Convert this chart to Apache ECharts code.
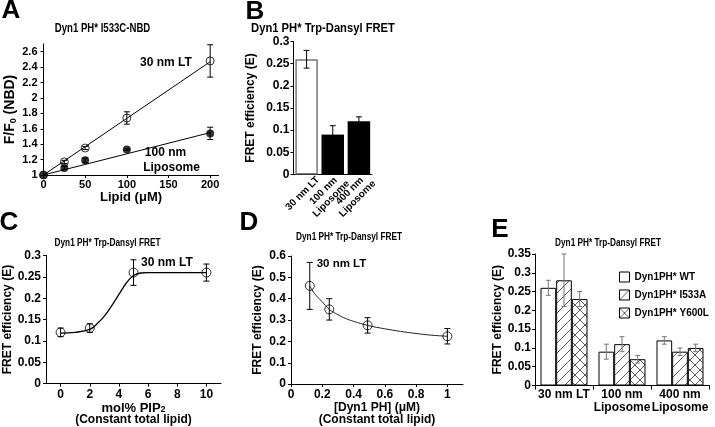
<!DOCTYPE html>
<html><head><meta charset="utf-8">
<script src="https://cdn.jsdelivr.net/npm/echarts@6/dist/echarts.min.js"></script>
<style>html,body{margin:0;padding:0;background:#fff}#c{width:715px;height:427px}</style>
</head><body><div id="c"></div>
<script>
// ---------- Panel A ----------
const aLipid = [0, 25, 50, 100, 200];
const a30Mean = [1.0, 1.17, 1.35, 1.74, 2.48];
const a30Err = [0, 0.02, 0.02, 0.08, 0.21];
const a100Mean = [1.0, 1.09, 1.19, 1.33, 1.54];
const a100Err = [0, 0.02, 0.03, 0.01, 0.08];
const aFitX = [0, 200];
const a30Fit = [1.0, 2.47];
const a100Fit = [1.0, 1.55];
const aYTicks = [1, 1.2, 1.4, 1.6, 1.8, 2, 2.2, 2.4, 2.6];
const aXTicks = [0, 50, 100, 150, 200];
// ---------- Panel B ----------
const bCats = ['30 nm LT', '100 nm\nLiposome', '400 nm\nLiposome'];
const bMean = [0.26, 0.09, 0.12];
const bErr = [0.02, 0.02, 0.01];
// ---------- Panel C ----------
const cPip = [0, 2, 5, 10];
const cMean = [0.12, 0.13, 0.26, 0.26];
const cErr = [0.01, 0.01, 0.03, 0.02];
const cFitX = [0, 1, 2, 2.5, 3, 3.5, 4, 4.5, 5, 5.5, 6, 8, 10];
const cFitY = [0.118, 0.12, 0.127, 0.14, 0.158, 0.182, 0.209, 0.235, 0.253, 0.259, 0.26, 0.26, 0.26];
const cXTicks = [0, 2, 4, 6, 8, 10];
// ---------- Panel D ----------
const dConc = [0.12, 0.245, 0.49, 1.0];
const dMean = [0.46, 0.35, 0.275, 0.224];
const dErr = [0.11, 0.05, 0.036, 0.036];
const dFitX = [0.12, 0.15, 0.2, 0.245, 0.3, 0.35, 0.4, 0.49, 0.6, 0.7, 0.8, 0.9, 1.0];
const dFitY = [0.46, 0.425, 0.385, 0.35, 0.325, 0.307, 0.294, 0.275, 0.259, 0.247, 0.237, 0.229, 0.224];
const dXTicks = [0, 0.2, 0.4, 0.6, 0.8, 1];
// ---------- Panel E ----------
const eCats = ['30 nm LT', '100 nm\nLiposome', '400 nm\nLiposome'];
const eNames = ['Dyn1PH* WT', 'Dyn1PH* I533A', 'Dyn1PH* Y600L'];
const eWT = [0.26, 0.09, 0.12];
const eWTErr = [0.02, 0.02, 0.01];
const eI533A = [0.28, 0.11, 0.09];
const eI533AErr = [0.07, 0.02, 0.01];
const eY600L = [0.23, 0.07, 0.10];
const eY600LErr = [0.02, 0.01, 0.01];

const FF = "'Liberation Sans', Arial, Helvetica, sans-serif";

function hatch(cross) {
  const s = 10, cv = document.createElement('canvas');
  cv.width = s; cv.height = s;
  const g = cv.getContext('2d');
  g.fillStyle = '#fff'; g.fillRect(0, 0, s, s);
  g.strokeStyle = '#333'; g.lineWidth = 0.8;
  g.beginPath();
  g.moveTo(0, s); g.lineTo(s, 0);
  g.moveTo(-2, 2); g.lineTo(2, -2);
  g.moveTo(s - 2, s + 2); g.lineTo(s + 2, s - 2);
  if (cross) {
    g.moveTo(0, 0); g.lineTo(s, s);
    g.moveTo(-2, s - 2); g.lineTo(2, s + 2);
    g.moveTo(s - 2, -2); g.lineTo(s + 2, 2);
  }
  g.stroke();
  return cv;
}
const patDiag = { image: hatch(false), repeat: 'repeat' };
const patCross = { image: hatch(true), repeat: 'repeat' };
const eFills = ['#fff', patDiag, patCross];

function zip(xs, ys) { return xs.map((x, i) => [x, ys[i]]); }
function zip3(xs, ys, es) { return xs.map((x, i) => [x, ys[i], es[i]]); }

function errRender(idx, n, gap, color, cap) {
  return function (params, api) {
    const x = api.value(0), y = api.value(1), e = api.value(2);
    if (!e) return null;
    const hi = api.coord([x, y + e]), lo = api.coord([x, y - e]);
    let dx = 0;
    if (n) {
      const cw = api.size([1, 0])[0];
      const bw = cw * (1 - gap) / n;
      dx = (idx - (n - 1) / 2) * bw;
    }
    const cx = hi[0] + dx;
    const st = { stroke: color, lineWidth: 1 };
    return { type: 'group', children: [
      { type: 'line', shape: { x1: cx, y1: hi[1], x2: cx, y2: lo[1] }, style: st },
      { type: 'line', shape: { x1: cx - cap, y1: hi[1], x2: cx + cap, y2: hi[1] }, style: st },
      { type: 'line', shape: { x1: cx - cap, y1: lo[1], x2: cx + cap, y2: lo[1] }, style: st }
    ]};
  };
}

const lbl = { color: '#000', fontWeight: 'bold', fontSize: 11, fontFamily: FF };
function valAxis(gi, min, max, interval, extra) {
  return Object.assign({
    type: 'value', gridIndex: gi, min: min, max: max, interval: interval,
    axisLine: { show: true, onZero: false, lineStyle: { color: '#000', width: 1 } },
    axisTick: { show: true, length: 3, lineStyle: { color: '#000' } },
    axisLabel: Object.assign({ margin: 5 }, lbl),
    splitLine: { show: false },
    nameTextStyle: { color: '#000', fontWeight: 'bold', fontSize: 12, fontFamily: FF }
  }, extra || {});
}

const chart = echarts.init(document.getElementById('c'), null, { renderer: 'canvas' });

const subRich = {
  sub: { fontSize: 9, fontWeight: 'bold', fontFamily: FF, color: '#000', verticalAlign: 'bottom', lineHeight: 9 }
};

const option = {
  animation: false,
  backgroundColor: '#fff',
  grid: [
    { left: 43.5, top: 44, width: 175, height: 131 },
    { left: 293.5, top: 41.5, width: 78.5, height: 133 },
    { left: 46, top: 255.5, width: 175, height: 130 },
    { left: 291, top: 256, width: 172, height: 129 },
    { left: 535, top: 254, width: 174, height: 131.5 }
  ],
  xAxis: [
    valAxis(0, 0, 210, 50, {
      axisLabel: Object.assign({ margin: 4, customValues: aXTicks }, lbl),
      axisTick: { show: true, length: 3, customValues: aXTicks, lineStyle: { color: '#000' } },
      name: 'Lipid (\u03bcM)', nameLocation: 'middle', nameGap: 15,
      nameTextStyle: { color: '#000', fontWeight: 'bold', fontSize: 13, fontFamily: FF }
    }),
    {
      type: 'category', gridIndex: 1, data: bCats,
      axisLine: { show: true, onZero: false, lineStyle: { color: '#000' } },
      axisTick: { show: false },
      axisLabel: {
        interval: 0, rotate: 45, margin: 15, padding: [0, -16, 0, 0],
        formatter: v => v.split('\n').map(s => '{a|' + s + '}').join('\n'),
        rich: { a: { align: 'center', fontSize: 10, fontWeight: 'bold', fontFamily: FF, color: '#000', lineHeight: 11 } }
      }
    },
    valAxis(2, -1, 11, 1, {
      axisLabel: Object.assign({ margin: 5, customValues: cXTicks }, lbl, { fontSize: 12 }),
      axisTick: { show: true, length: 3, customValues: cXTicks, lineStyle: { color: '#000' } },
      name: 'mol% PIP{sub|2}\n{b|(Constant total lipid)}', nameLocation: 'middle', nameGap: 8,
      nameTextStyle: {
        color: '#000', fontWeight: 'bold', fontSize: 13, fontFamily: FF, lineHeight: 12,
        rich: Object.assign({ b: { fontSize: 12, fontWeight: 'bold', fontFamily: FF, color: '#000', lineHeight: 12 } }, subRich)
      }
    }),
    valAxis(3, 0, 1.1, 0.1, {
      axisLabel: Object.assign({ margin: 5, customValues: dXTicks }, lbl, { fontSize: 12 }),
      axisTick: { show: true, length: 3, customValues: dXTicks, lineStyle: { color: '#000' } },
      name: '[Dyn1 PH] (\u03bcM)\n(Constant total lipid)', nameLocation: 'middle', nameGap: 14,
      nameTextStyle: { color: '#000', fontWeight: 'bold', fontSize: 12, fontFamily: FF, lineHeight: 12 }
    }),
    {
      type: 'category', gridIndex: 4, data: eCats,
      axisLine: { show: true, onZero: false, lineStyle: { color: '#000' } },
      axisTick: { show: true, length: 4, lineStyle: { color: '#000' } },
      axisLabel: Object.assign({ interval: 0, margin: 3, lineHeight: 12.5 }, lbl, { fontSize: 12 })
    }
  ],
  yAxis: [
    valAxis(0, 1, 2.7, 0.2, {
      axisLabel: Object.assign({ margin: 6, customValues: aYTicks }, lbl),
      axisTick: { show: true, length: 3, customValues: aYTicks, lineStyle: { color: '#000' } },
      name: 'F/F{sub|0} (NBD)', nameLocation: 'middle', nameRotate: 90, nameGap: 25,
      nameTextStyle: { color: '#000', fontWeight: 'bold', fontSize: 14, fontFamily: FF, lineHeight: 16, rich: subRich }
    }),
    valAxis(1, 0, 0.3, 0.05, {
      axisLabel: Object.assign({ margin: 4 }, lbl, { fontSize: 12 }),
      name: 'FRET efficiency (E)', nameLocation: 'middle', nameRotate: 90, nameGap: 37
    }),
    valAxis(2, 0, 0.3, 0.05, {
      axisLabel: Object.assign({ margin: 5 }, lbl, { fontSize: 12 }),
      name: 'FRET efficiency (E)', nameLocation: 'middle', nameRotate: 90, nameGap: 30
    }),
    valAxis(3, 0, 0.6, 0.1, {
      axisLabel: Object.assign({ margin: 5 }, lbl, { fontSize: 12 }),
      name: 'FRET efficiency (E)', nameLocation: 'middle', nameRotate: 90, nameGap: 27
    }),
    valAxis(4, 0, 0.35, 0.05, {
      axisLabel: Object.assign({ margin: 4 }, lbl, { fontSize: 12 }),
      name: 'FRET efficiency (E)', nameLocation: 'middle', nameRotate: 90, nameGap: 31
    })
  ],
  legend: {
    orient: 'vertical', left: 619, top: 271, padding: 0, itemWidth: 10, itemHeight: 10, itemGap: 6,
    icon: 'rect', selectedMode: false,
    textStyle: { color: '#000', fontWeight: 'bold', fontSize: 10, fontFamily: FF, lineHeight: 12 },
    data: eNames.map((n, i) => ({ name: n, itemStyle: { color: eFills[i], borderColor: '#000', borderWidth: 1 } }))
  },
  graphic: [],
  series: []
};

// Panel text (letters, titles, annotations)
function txt(t, x, y, size, sx) {
  return { type: 'text', x: x, y: y, silent: true, scaleX: sx || 1,
    style: { text: t, fontSize: size, fontWeight: 'bold', fontFamily: FF, fill: '#000',
      align: 'center', verticalAlign: 'middle' } };
}
option.graphic = [
  txt('A', 11, 11, 26), txt('B', 255, 12, 26), txt('C', 9, 223, 26), txt('D', 249, 223, 26), txt('E', 500, 230, 26),
  txt('Dyn1 PH* I533C-NBD', 102.5, 29, 12, 0.8),
  txt('Dyn1 PH* Trp-Dansyl FRET', 323, 28, 13.5, 0.83),
  txt('Dyn1 PH* Trp-Dansyl FRET', 107.5, 243, 11, 0.75),
  txt('Dyn1 PH* Trp-Dansyl FRET', 349, 237, 11, 0.75),
  txt('Dyn1 PH* Trp-Dansyl FRET', 608, 243, 11, 0.75),
  txt('30 nm LT', 166, 63, 12),
  txt('100 nm', 165.5, 153, 12),
  txt('Liposome', 171.5, 167.5, 12),
  txt('30 nm LT', 167, 263, 12),
  txt('30 nm LT', 341.5, 264, 11.5)
];

const openSym = { color: 'rgba(0,0,0,0)', borderColor: '#000', borderWidth: 1 };
const S = option.series;
// A
S.push({ type: 'line', xAxisIndex: 0, yAxisIndex: 0, data: zip(aFitX, a30Fit), symbol: 'none', silent: true, lineStyle: { color: '#000', width: 1 } });
S.push({ type: 'line', xAxisIndex: 0, yAxisIndex: 0, data: zip(aFitX, a100Fit), symbol: 'none', silent: true, lineStyle: { color: '#000', width: 1 } });
S.push({ type: 'custom', xAxisIndex: 0, yAxisIndex: 0, data: zip3(aLipid, a30Mean, a30Err), renderItem: errRender(0, 0, 0, '#000', 3), silent: true, z: 3 });
S.push({ type: 'custom', xAxisIndex: 0, yAxisIndex: 0, data: zip3(aLipid, a100Mean, a100Err), renderItem: errRender(0, 0, 0, '#000', 3), silent: true, z: 3 });
S.push({ type: 'scatter', xAxisIndex: 0, yAxisIndex: 0, data: zip(aLipid, a30Mean), symbol: 'circle', symbolSize: 8, itemStyle: openSym, z: 4 });
S.push({ type: 'scatter', xAxisIndex: 0, yAxisIndex: 0, data: zip(aLipid, a100Mean), symbol: 'circle', symbolSize: 8, itemStyle: { color: '#000' }, z: 5 });
// B
S.push({ type: 'bar', xAxisIndex: 1, yAxisIndex: 1, barCategoryGap: '14%',
  data: bMean.map((v, i) => ({ value: v, itemStyle: i === 0 ? { color: '#fff', borderColor: '#777', borderWidth: 1.5 } : { color: '#000' } })) });
S.push({ type: 'custom', xAxisIndex: 1, yAxisIndex: 1, data: bMean.map((v, i) => [i, v, bErr[i]]), renderItem: errRender(0, 0, 0, '#000', 3), silent: true, z: 3 });
// C
S.push({ type: 'line', xAxisIndex: 2, yAxisIndex: 2, data: zip(cFitX, cFitY), smooth: 0.4, symbol: 'none', silent: true, lineStyle: { color: '#000', width: 1.3 } });
S.push({ type: 'custom', xAxisIndex: 2, yAxisIndex: 2, data: zip3(cPip, cMean, cErr), renderItem: errRender(0, 0, 0, '#000', 3), silent: true, z: 3 });
S.push({ type: 'scatter', xAxisIndex: 2, yAxisIndex: 2, data: zip(cPip, cMean), symbol: 'circle', symbolSize: 9, itemStyle: openSym, z: 4 });
// D
S.push({ type: 'line', xAxisIndex: 3, yAxisIndex: 3, data: zip(dFitX, dFitY), smooth: 0.4, symbol: 'none', silent: true, lineStyle: { color: '#222', width: 1 } });
S.push({ type: 'custom', xAxisIndex: 3, yAxisIndex: 3, data: zip3(dConc, dMean, dErr), renderItem: errRender(0, 0, 0, '#000', 3), silent: true, z: 3 });
S.push({ type: 'scatter', xAxisIndex: 3, yAxisIndex: 3, data: zip(dConc, dMean), symbol: 'circle', symbolSize: 9, itemStyle: openSym, z: 4 });
// E
const eVals = [eWT, eI533A, eY600L];
const eErrs = [eWTErr, eI533AErr, eY600LErr];
eVals.forEach((vals, k) => {
  S.push({ type: 'bar', name: eNames[k], xAxisIndex: 4, yAxisIndex: 4, data: vals, barGap: '0%', barCategoryGap: '19%',
    itemStyle: { color: eFills[k], borderColor: '#000', borderWidth: 1 } });
});
eVals.forEach((vals, k) => {
  S.push({ type: 'custom', xAxisIndex: 4, yAxisIndex: 4, data: vals.map((v, i) => [i, v, eErrs[k][i]]),
    renderItem: errRender(k, 3, 0.19, '#777', 2.5), silent: true, z: 3 });
});

chart.setOption(option);
</script>
</body></html>
